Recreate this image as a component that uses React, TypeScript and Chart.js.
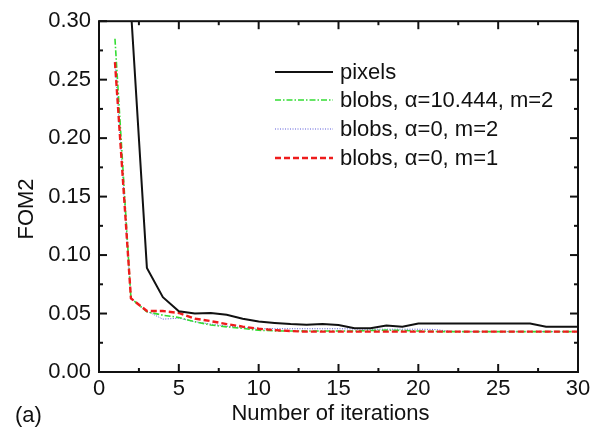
import React, { useEffect, useRef } from "react";
import { Chart, registerables } from "chart.js";

Chart.register(...registerables);

// ---- Data ----
const iterations = [1, 2, 3, 4, 5, 6, 7, 8, 9, 10, 11, 12, 13, 14, 15, 16, 17, 18, 19, 20, 21, 22, 23, 24, 25, 26, 27, 28, 29, 30];
const pixels = [null, 0.31, 0.089, 0.064, 0.052, 0.05, 0.0505, 0.049, 0.0455, 0.0432, 0.042, 0.041, 0.0405, 0.041, 0.0402, 0.0375, 0.0375, 0.0398, 0.0388, 0.0415, 0.0415, 0.0415, 0.0415, 0.0415, 0.0415, 0.0415, 0.0415, 0.0388, 0.0388, 0.0388];
const blobsA10m2 = [0.285, 0.063, 0.0515, 0.0486, 0.0466, 0.043, 0.0402, 0.0386, 0.0373, 0.0357, 0.0352, 0.035, 0.035, 0.035, 0.035, 0.035, 0.0355, 0.0358, 0.0355, 0.035, 0.0347, 0.0345, 0.0345, 0.0345, 0.0345, 0.0345, 0.0345, 0.0345, 0.0345, 0.0345];
const blobsA0m2 = [0.265, 0.063, 0.052, 0.0452, 0.046, 0.043, 0.041, 0.0392, 0.038, 0.0372, 0.037, 0.037, 0.037, 0.037, 0.037, 0.0368, 0.0366, 0.0366, 0.0366, 0.0366, 0.0364, 0.0348, 0.0345, 0.0345, 0.0345, 0.0345, 0.0345, 0.0345, 0.0345, 0.0345];
const blobsA0m1 = [0.265, 0.063, 0.0522, 0.0522, 0.0505, 0.0457, 0.0435, 0.041, 0.0388, 0.037, 0.0358, 0.035, 0.0345, 0.0345, 0.0345, 0.0345, 0.0345, 0.0345, 0.0345, 0.0345, 0.0345, 0.0345, 0.0345, 0.0345, 0.0345, 0.0345, 0.0345, 0.0345, 0.0345, 0.0345];
const seriesLabels = ["pixels", "blobs, \u03b1=10.444, m=2", "blobs, \u03b1=0, m=2", "blobs, \u03b1=0, m=1"];
const xMajorTicks = [0, 5, 10, 15, 20, 25, 30];
const xMinorTicks = [2.5, 7.5, 12.5, 17.5, 22.5, 27.5];
const yMajorTicks = [0, 0.05, 0.1, 0.15, 0.2, 0.25, 0.3];
const yMinorTicks = [0.025, 0.075, 0.125, 0.175, 0.225, 0.275];
const xTitle = "Number of iterations";
const yTitle = "FOM2";
const panelLabel = "(a)";

const FONT = '"Liberation Sans", Arial, Helvetica, sans-serif';
const INK = "#111111";

const toPoints = (vals: (number | null)[]) =>
  iterations.map((x, i) => ({ x, y: vals[i] }));

const framePlugin = {
  id: "frameTicks",
  afterDatasetsDraw(chart: any) {
    const { ctx, chartArea: a, scales } = chart;
    const xs = scales.x;
    const ys = scales.y;
    ctx.save();
    ctx.strokeStyle = INK;
    ctx.lineWidth = 2;
    ctx.setLineDash([]);
    ctx.strokeRect(a.left, a.top, a.right - a.left, a.bottom - a.top);
    const tick = (x1: number, y1: number, x2: number, y2: number) => {
      ctx.beginPath();
      ctx.moveTo(x1, y1);
      ctx.lineTo(x2, y2);
      ctx.stroke();
    };
    const drawX = (vals: number[], len: number) => {
      vals.forEach((v) => {
        const px = xs.getPixelForValue(v);
        tick(px, a.bottom, px, a.bottom - len);
        tick(px, a.top, px, a.top + len);
      });
    };
    const drawY = (vals: number[], len: number) => {
      vals.forEach((v) => {
        const py = ys.getPixelForValue(v);
        tick(a.left, py, a.left + len, py);
        tick(a.right, py, a.right - len, py);
      });
    };
    drawX(xMajorTicks, 8);
    drawX(xMinorTicks, 4);
    drawY(yMajorTicks, 8);
    drawY(yMinorTicks, 4);

    // titles
    ctx.fillStyle = INK;
    ctx.font = `22px ${FONT}`;
    ctx.textAlign = "center";
    ctx.textBaseline = "alphabetic";
    ctx.fillText(xTitle, (a.left + a.right) / 2 - 8, 420);
    ctx.textAlign = "left";
    ctx.fillText(panelLabel, 15, 422);
    ctx.save();
    ctx.translate(33, 209);
    ctx.rotate(-Math.PI / 2);
    ctx.textAlign = "center";
    ctx.fillText(yTitle, 0, 0);
    ctx.restore();

    // legend
    const rows = [72, 100, 129, 158];
    chart.data.datasets.forEach((ds: any, i: number) => {
      const y = rows[i];
      ctx.save();
      ctx.strokeStyle = ds.borderColor;
      ctx.lineWidth = ds.borderWidth;
      ctx.setLineDash(ds.borderDash || []);
      ctx.beginPath();
      ctx.moveTo(275, y);
      ctx.lineTo(333, y);
      ctx.stroke();
      ctx.restore();
      ctx.fillStyle = INK;
      ctx.font = `22px ${FONT}`;
      ctx.textAlign = "left";
      ctx.textBaseline = "middle";
      ctx.fillText(ds.label, 340, y + 1);
    });
    ctx.restore();
  },
};

export default function App() {
  const ref = useRef<HTMLCanvasElement | null>(null);
  useEffect(() => {
    if (!ref.current) return;
    const chart = new Chart(ref.current, {
      type: "line",
      data: {
        datasets: [
          {
            label: seriesLabels[0],
            data: toPoints(pixels),
            borderColor: "#111111",
            borderWidth: 2,
            pointRadius: 0,
            tension: 0,
            order: 0,
          },
          {
            label: seriesLabels[1],
            data: toPoints(blobsA10m2),
            borderColor: "#33dd33",
            borderWidth: 1.6,
            borderDash: [6, 2, 1.5, 2],
            pointRadius: 0,
            tension: 0,
            order: 2,
          },
          {
            label: seriesLabels[2],
            data: toPoints(blobsA0m2),
            borderColor: "#5a5ad8",
            borderWidth: 1,
            borderDash: [1, 1.5],
            pointRadius: 0,
            tension: 0,
            order: 3,
          },
          {
            label: seriesLabels[3],
            data: toPoints(blobsA0m1),
            borderColor: "#ee1c1c",
            borderWidth: 2.4,
            borderDash: [6, 3],
            pointRadius: 0,
            tension: 0,
            order: 1,
          },
        ],
      },
      options: {
        animation: false,
        responsive: false,
        devicePixelRatio: 1,
        layout: { padding: { left: 0, right: 23, top: 20, bottom: 0 } },
        plugins: { legend: { display: false }, tooltip: { enabled: false } },
        scales: {
          x: {
            type: "linear",
            min: 0,
            max: 30,
            afterFit: (s: any) => {
              s.height = 56;
            },
            afterBuildTicks: (s: any) => {
              s.ticks = xMajorTicks.map((v) => ({ value: v }));
            },
            grid: { display: false, drawTicks: false },
            border: { display: false },
            ticks: {
              padding: 4,
              color: INK,
              font: { family: FONT, size: 22 },
              maxRotation: 0,
              autoSkip: false,
              callback: (v: any) => String(v),
            },
          },
          y: {
            type: "linear",
            min: 0,
            max: 0.3,
            afterFit: (s: any) => {
              s.width = 99;
            },
            afterBuildTicks: (s: any) => {
              s.ticks = yMajorTicks.map((v) => ({ value: v }));
            },
            grid: { display: false, drawTicks: false },
            border: { display: false },
            ticks: {
              padding: 8,
              color: INK,
              font: { family: FONT, size: 22 },
              autoSkip: false,
              callback: (v: any) => Number(v).toFixed(2),
            },
          },
        },
      },
      plugins: [framePlugin],
    });
    return () => chart.destroy();
  }, []);
  return (
    <div style={{ position: "absolute", left: 0, top: 0, width: 601, height: 428, background: "#fff" }}>
      <canvas ref={ref} width={601} height={428} style={{ display: "block" }} />
    </div>
  );
}
